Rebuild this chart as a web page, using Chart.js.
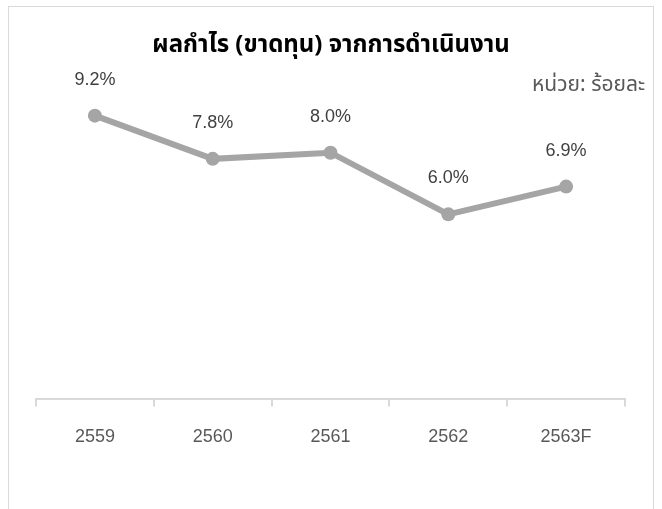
<!DOCTYPE html>
<html>
<head>
<meta charset="utf-8">
<script src="https://cdn.jsdelivr.net/npm/chart.js@4/dist/chart.umd.min.js"></script>
<style>
  html, body { margin: 0; padding: 0; background: #fff; }
  #wrap { position: relative; width: 662px; height: 509px; overflow: hidden; }
  #frame { position: absolute; left: 8px; top: 6px; width: 646px; height: 520px; border: 1px solid #d9d9d9; box-sizing: border-box; }
  #myChart { position: absolute; left: 0; top: 0; }
</style>
</head>
<body>
<div id="wrap">
  <div id="frame"></div>
  <canvas id="myChart" width="662" height="509"></canvas>
</div>
<script>
// ข้อมูล
const years = ['2559', '2560', '2561', '2562', '2563F'];
const profitPct = [9.2, 7.8, 8.0, 6.0, 6.9];
const yMin = 0;
const yMax = 10;

const titleText = 'ผลกำไร (ขาดทุน) จากการดำเนินงาน';
const unitText = 'หน่วย: ร้อยละ';

const labelFont = '"Liberation Sans", Arial, sans-serif';
const thaiFont = 'Tahoma, "Noto Sans Thai", "Noto Sans", sans-serif';

// draw value labels + title + unit text
const extras = {
    id: 'extras',
    afterDatasetsDraw(chart) {
        const ctx = chart.ctx;
        const meta = chart.getDatasetMeta(0);
        ctx.save();
        ctx.fillStyle = '#404040';
        ctx.font = '18px ' + labelFont;
        ctx.textAlign = 'center';
        ctx.textBaseline = 'middle';
        meta.data.forEach((pt, i) => {
            ctx.fillText(profitPct[i].toFixed(1) + '%', pt.x, pt.y - 36);
        });

        ctx.fillStyle = '#000';
        ctx.font = 'bold 24px ' + thaiFont;
        ctx.fillText(titleText, 331, 47);

        ctx.fillStyle = '#595959';
        ctx.font = '21px ' + thaiFont;
        ctx.textAlign = 'right';
        ctx.fillText(unitText, 645, 87);
        ctx.restore();
    }
};

const ctx = document.getElementById('myChart');

new Chart(ctx, {
    type: 'line',
    data: {
        labels: years,
        datasets: [{
            data: profitPct,
            borderColor: '#a5a5a5',
            backgroundColor: '#a5a5a5',
            borderWidth: 6,
            pointRadius: 7,
            pointBorderWidth: 0,
            pointBackgroundColor: '#a5a5a5',
            tension: 0
        }]
    },
    options: {
        responsive: false,
        animation: false,
        layout: {
            padding: { left: 36, right: 37, top: 91, bottom: 41 }
        },
        plugins: {
            legend: { display: false },
            tooltip: { enabled: false }
        },
        scales: {
            x: {
                offset: true,
                grid: {
                    offset: true,
                    drawOnChartArea: false,
                    tickLength: 7,
                    color: '#d9d9d9',
                    lineWidth: 2
                },
                border: { color: '#d9d9d9', width: 2 },
                ticks: {
                    padding: 20,
                    color: '#595959',
                    font: { family: labelFont, size: 18 }
                }
            },
            y: {
                display: false,
                min: yMin,
                max: yMax
            }
        }
    },
    plugins: [extras]
});
</script>
</body>
</html>
